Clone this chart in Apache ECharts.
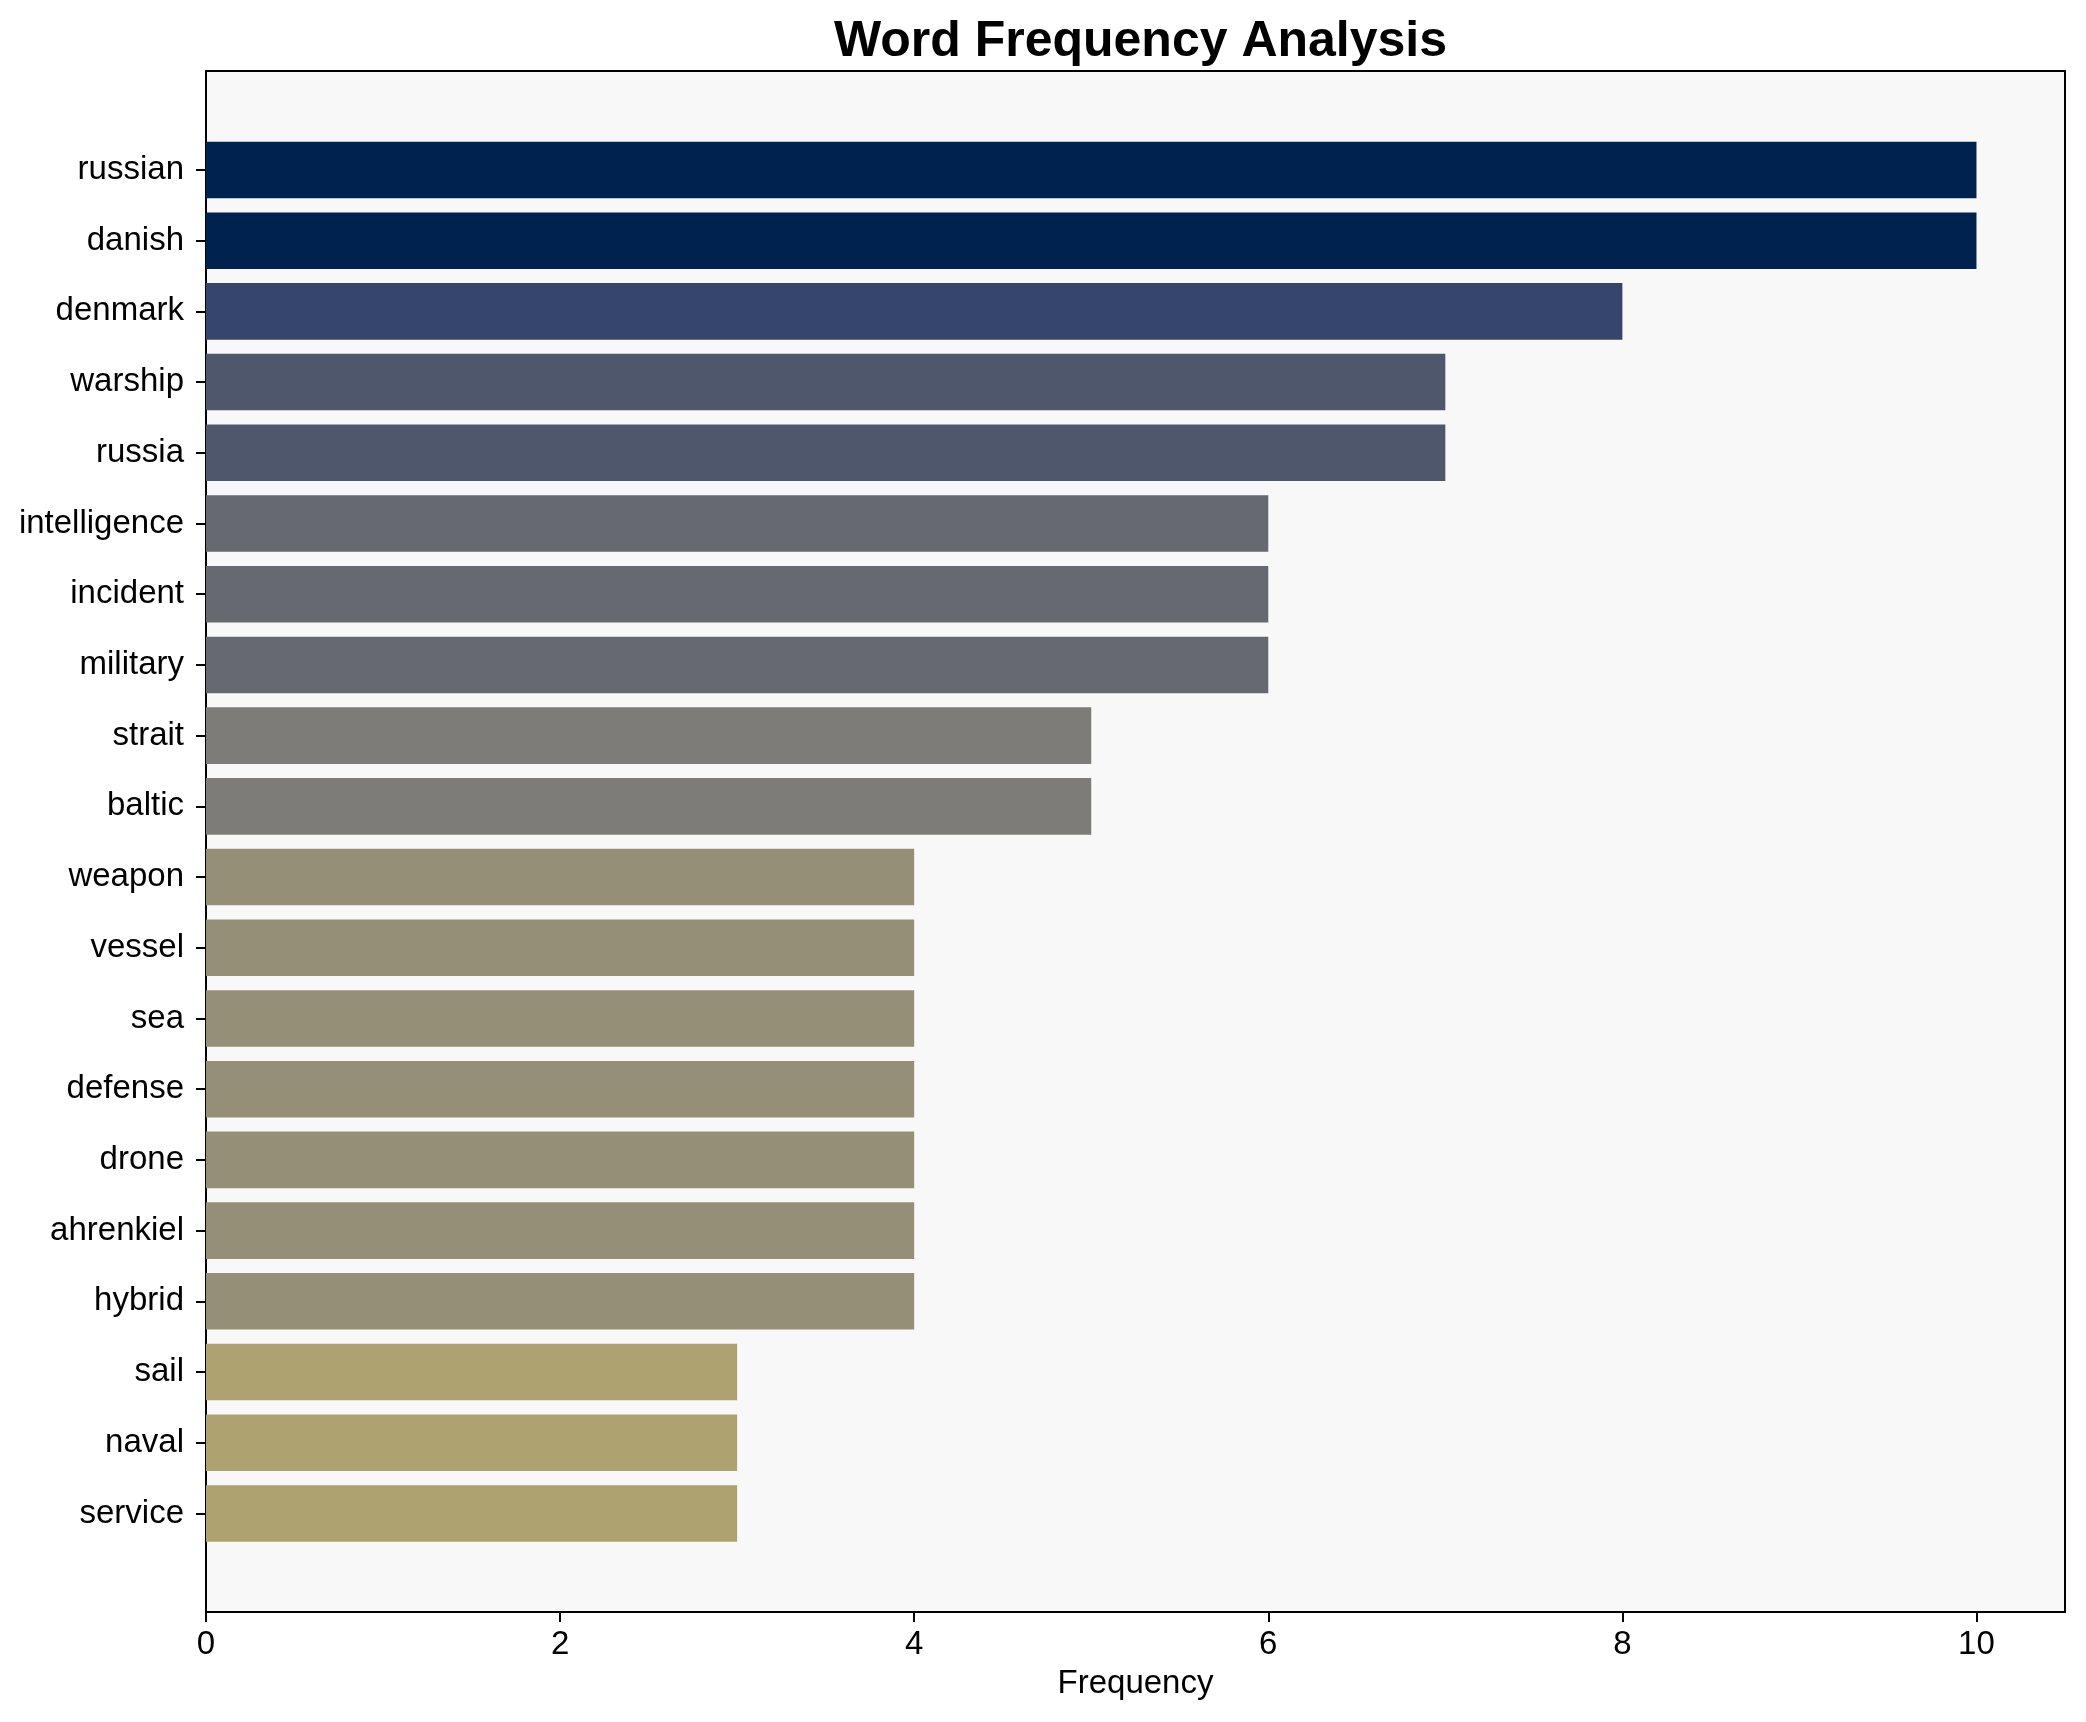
<!DOCTYPE html>
<html>
<head>
<meta charset="utf-8">
<script src="https://cdn.jsdelivr.net/npm/echarts@6/dist/echarts.min.js"></script>
<style>html,body{margin:0;padding:0;background:#fff;}#c{width:2086px;height:1722px;}</style>
</head>
<body>
<div id="c"></div>
<script>
const words = ["russian","danish","denmark","warship","russia","intelligence","incident","military","strait","baltic","weapon","vessel","sea","defense","drone","ahrenkiel","hybrid","sail","naval","service"];
const freqs = [10,10,8,7,7,6,6,6,5,5,4,4,4,4,4,4,4,3,3,3];
const barColors = ["#00224e","#00224e","#35456c","#4f576c","#4f576c","#666970","#666970","#666970","#7d7c78","#7d7c78","#958f78","#958f78","#958f78","#958f78","#958f78","#958f78","#958f78","#aea271","#aea271","#aea271"];
const xTicks = [0,2,4,6,8,10];

const FONT = "Liberation Sans, Arial, Helvetica, sans-serif";
const chart = echarts.init(document.getElementById('c'), null, {renderer:'canvas'});
chart.setOption({
  animation:false,
  backgroundColor:'#ffffff',
  title:{
    text:'Word Frequency Analysis',
    left:1135.5, top:12, textAlign:'center',
    textStyle:{fontFamily:FONT, fontSize:50, fontWeight:'bold', color:'#000'}
  },
  grid:[
    {left:206, right:21, top:71, bottom:110, show:true, backgroundColor:'#f8f8f8', borderColor:'#000', borderWidth:2, containLabel:false},
    {left:206, right:21, top:134.6, bottom:173.2, containLabel:false}
  ],
  xAxis:[
    {gridIndex:0, type:'value', min:0, max:10.5,
     name:'Frequency', nameLocation:'middle', nameGap:55,
     nameTextStyle:{fontFamily:FONT, fontSize:33, color:'#000'},
     axisLine:{show:true, lineStyle:{color:'#000', width:2}},
     axisTick:{show:true, length:10, lineStyle:{color:'#000', width:2}, customValues:xTicks},
     axisLabel:{show:true, fontFamily:FONT, fontSize:33, color:'#000', margin:16, customValues:xTicks},
     splitLine:{show:false}},
    {gridIndex:1, type:'value', min:0, max:10.5, show:false, splitLine:{show:false}}
  ],
  yAxis:[
    {gridIndex:0, type:'value', min:0, max:1, show:false, splitLine:{show:false}},
    {gridIndex:1, type:'category', data:words, inverse:true,
     axisLine:{show:false},
     axisTick:{show:true, alignWithLabel:true, length:10, lineStyle:{color:'#000', width:2}},
     axisLabel:{fontFamily:FONT, fontSize:33, color:'#000', margin:22, padding:[5,0,0,0]},
     splitLine:{show:false}}
  ],
  series:[{
    type:'bar', xAxisIndex:1, yAxisIndex:1,
    barWidth:'80%',
    data:freqs.map((v,i)=>({value:v, itemStyle:{color:barColors[i]}}))
  }]
});
</script>
</body>
</html>
